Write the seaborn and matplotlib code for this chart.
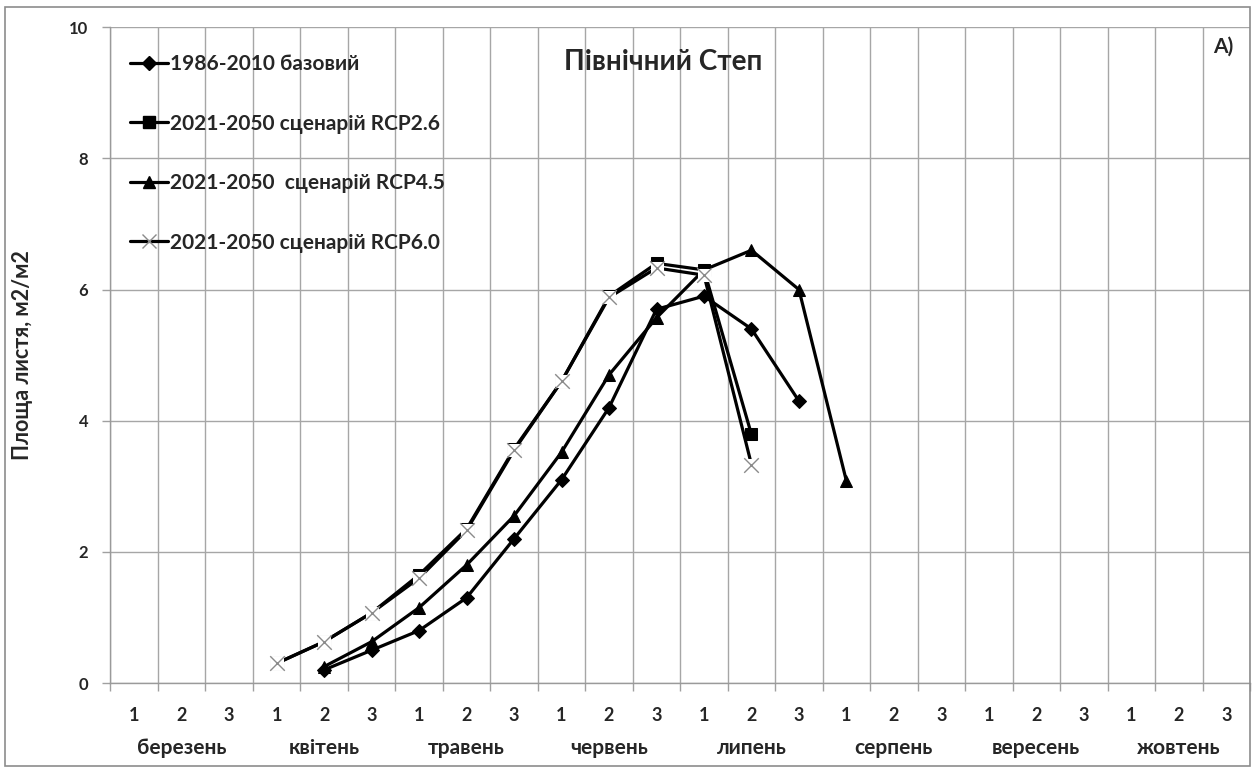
import matplotlib
matplotlib.use("Agg")
import matplotlib.pyplot as plt
import seaborn as sns
import pandas as pd
import numpy as np
from matplotlib.lines import Line2D
from matplotlib.patches import Rectangle
import matplotlib.transforms as mtransforms

sns.set_style("white")
plt.rcParams['font.family'] = ['Lato', 'DejaVu Sans']

months = ["березень", "квітень", "травень", "червень", "липень", "серпень", "вересень", "жовтень"]
decades = ["1", "2", "3"]

# index positions (decade number from start of March, 0-based)
base_x = [4, 5, 6, 7, 8, 9, 10, 11, 12, 13, 14]
base_y = [0.2, 0.5, 0.8, 1.3, 2.2, 3.1, 4.2, 5.7, 5.9, 5.4, 4.3]

rcp26_x = [3, 4, 5, 6, 7, 8, 9, 10, 11, 12, 13]
rcp26_y = [0.3, 0.63, 1.07, 1.65, 2.35, 3.57, 4.6, 5.9, 6.4, 6.3, 3.79]

rcp45_x = [4, 5, 6, 7, 8, 9, 10, 11, 12, 13, 14, 15]
rcp45_y = [0.25, 0.63, 1.15, 1.8, 2.55, 3.52, 4.7, 5.57, 6.3, 6.6, 6.0, 3.08]

rcp60_x = [3, 4, 5, 6, 7, 8, 9, 10, 11, 12, 13]
rcp60_y = [0.3, 0.63, 1.07, 1.6, 2.33, 3.55, 4.6, 5.88, 6.33, 6.22, 3.33]

labels = ["1986-2010 базовий", "2021-2050 сценарій RCP2.6",
          "2021-2050  сценарій RCP4.5", "2021-2050 сценарій RCP6.0"]

fig = plt.figure(figsize=(12.57, 7.71), dpi=100)
ax = fig.add_axes([110.5/1257, 1-683/771, 1139.5/1257, (683-27.3)/771])

lw = 2.3
sns.lineplot(x=base_x, y=base_y, ax=ax, color='black', lw=lw, marker='D',
             markersize=7.5, markeredgecolor='black', markerfacecolor='black')
sns.lineplot(x=rcp26_x, y=rcp26_y, ax=ax, color='black', lw=lw, marker='s',
             markersize=8.5, markeredgecolor='black', markerfacecolor='black')
sns.lineplot(x=rcp45_x, y=rcp45_y, ax=ax, color='black', lw=lw, marker='^',
             markersize=9, markeredgecolor='black', markerfacecolor='black')
sns.lineplot(x=rcp60_x, y=rcp60_y, ax=ax, color='black', lw=lw, marker='s',
             markersize=9, markeredgecolor='white', markerfacecolor='white')
sns.scatterplot(x=rcp60_x, y=rcp60_y, ax=ax, marker='x', s=110, color='#8a8a8a',
                linewidth=1.0, zorder=5)

ax.set_xlim(-0.5, 23.5)
ax.set_ylim(0, 10)
ax.set_yticks([0, 2, 4, 6, 8, 10])
ax.set_yticklabels(["0", "2", "4", "6", "8", "10"], fontsize=12, fontweight='bold')
ax.set_xticks(np.arange(-0.5, 24, 1))
ax.set_xticklabels([])
ax.tick_params(axis='x', length=6, color='#a0a0a0', width=1, direction='out', bottom=True)
ax.tick_params(axis='y', length=6, color='#a0a0a0', width=1, direction='out', left=True, pad=10)
ax.grid(True, color='#a6a6a6', lw=1)
for s in ['top', 'right']:
    ax.spines[s].set_visible(False)
for s in ['left', 'bottom']:
    ax.spines[s].set_color('#9a9a9a')
    ax.spines[s].set_linewidth(1)

trans = mtransforms.blended_transform_factory(ax.transData, ax.transAxes)
for m_i, m in enumerate(months):
    for d_i, d in enumerate(decades):
        ax.text(m_i*3 + d_i, -0.05, d, transform=trans, ha='center', va='center',
                fontsize=13, fontweight='bold')
    ax.text(m_i*3 + 1, -0.099, m, transform=trans, ha='center', va='center',
            fontsize=15, fontweight='bold')

ax.set_ylabel("Площа листя, м2/м2", fontsize=15.5, fontweight='bold')
ax.yaxis.set_label_coords(-0.068, 0.5)

fig.text(663/1257, 1-62/771, "Північний Степ", ha='center', va='center',
         fontsize=20, fontweight='bold')
ax.text(0.985, 0.971, "A)", transform=ax.transAxes, ha='right', va='center',
        fontsize=15, fontweight='bold')

handles = [
    Line2D([], [], color='black', lw=lw, marker='D', markersize=7, markerfacecolor='black'),
    Line2D([], [], color='black', lw=lw, marker='s', markersize=8.5, markerfacecolor='black'),
    Line2D([], [], color='black', lw=lw, marker='^', markersize=9, markerfacecolor='black'),
    Line2D([], [], color='black', lw=lw, marker='x', markersize=10, markeredgecolor='#8a8a8a',
           markeredgewidth=1.0),
]
leg = ax.legend(handles, labels, loc='upper left', bbox_to_anchor=(0.01, 0.972),
                frameon=False, fontsize=15, handlelength=1.8, handletextpad=0.1,
                labelspacing=1.9, borderaxespad=0)
for t in leg.get_texts():
    t.set_fontweight('bold')

fig.patches.append(Rectangle((5/1257, 1-766/771), 1245/1257, (766-7)/771,
                             transform=fig.transFigure, fill=False,
                             edgecolor='#8c8c8c', lw=1.2))

fig.savefig("out.png", dpi=100)
